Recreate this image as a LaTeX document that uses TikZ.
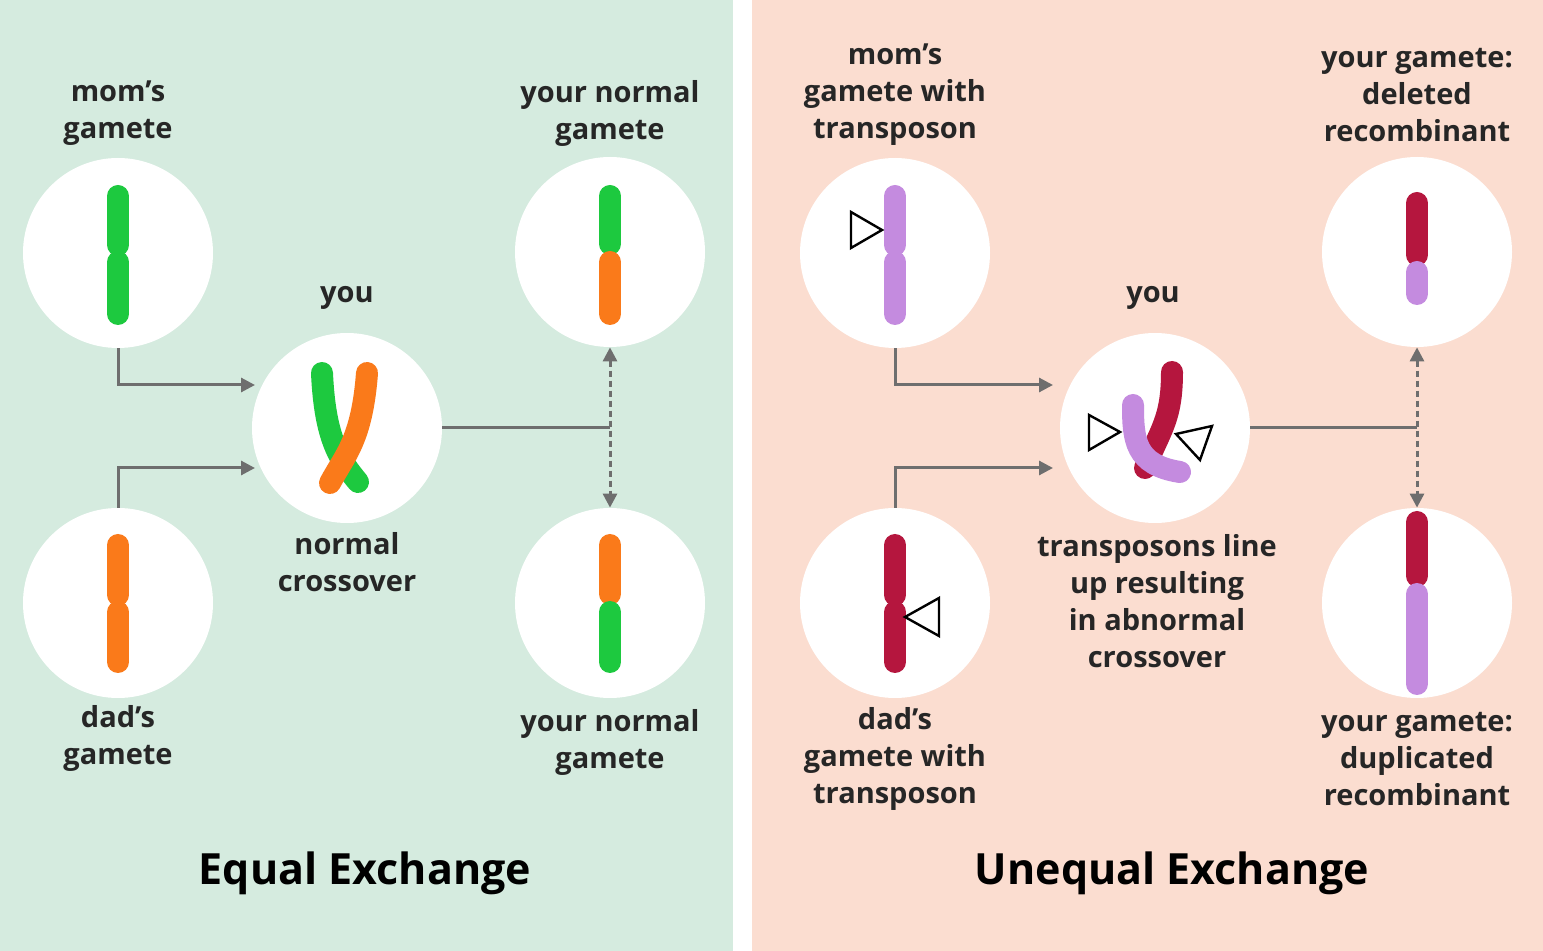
\documentclass[tikz,border=0pt]{standalone}
\usepackage{fontspec}
\setmainfont{Open Sans}
\usetikzlibrary{arrows.meta}
\definecolor{bgG}{HTML}{D5EBDF}
\definecolor{bgP}{HTML}{FBDDD0}
\definecolor{cG}{HTML}{1DC93F}
\definecolor{cO}{HTML}{FA7A1A}
\definecolor{cP}{HTML}{C48BDF}
\definecolor{cR}{HTML}{B5163E}
\definecolor{cL}{HTML}{6E6E6E}
\tikzset{
 cell/.style={circle,fill=white,minimum size=95pt,inner sep=0pt},
 chrom/.style={line width=11pt,line cap=round},
 lbl/.style={align=center,font=\bfseries\fontsize{14.5}{18.5}\selectfont,text=black!85},
 ttl/.style={font=\bfseries\fontsize{21.5}{25}\selectfont},
 conn/.style={draw=cL,line width=1.5pt,-{Triangle[length=7pt,width=7pt]}},
 plain/.style={draw=cL,line width=1.5pt},
 dconn/.style={draw=cL,line width=1.5pt,dashed,dash pattern=on 3pt off 2pt,{Triangle[length=7pt,width=7pt]}-{Triangle[length=7pt,width=7pt]}},
 tri/.style={draw=black,line width=1.2pt,fill=white,line join=miter}
}
\begin{document}
\begin{tikzpicture}[x=0.5pt,y=-0.5pt]
\useasboundingbox (0,0) rectangle (1543,951);
\fill[bgG] (0,0) rectangle (733,951);
\fill[white] (733,0) rectangle (752,951);
\fill[bgP] (752,0) rectangle (1543,951);
% circles
\node[cell] (m1) at (118,253) {};
\node[cell] (d1) at (118,603) {};
\node[cell] (y1) at (347,428) {};
\node[cell] (t1) at (610,252) {};
\node[cell] (b1) at (610,603) {};
\node[cell] (m2) at (895,253) {};
\node[cell] (d2) at (895,603) {};
\node[cell] (y2) at (1155,428) {};
\node[cell] (t2) at (1417,252) {};
\node[cell] (b2) at (1417,603) {};
% chromosomes left
\draw[chrom,cG] (118,196)--(118,245); \draw[chrom,cG] (118,262)--(118,314);
\draw[chrom,cO] (118,545)--(118,595); \draw[chrom,cO] (118,612)--(118,662);
\draw[chrom,cG] (610,196)--(610,244); \draw[chrom,cO] (610,262)--(610,314);
\draw[chrom,cO] (610,545)--(610,594); \draw[chrom,cG] (610,612)--(610,662);
\draw[chrom,cG] (322,373) .. controls (325,440) and (340,460) .. (358,482);
\draw[chrom,cO] (367,373) .. controls (362,440) and (345,455) .. (330,483);
% chromosomes right
\draw[chrom,cP] (895,196)--(895,245); \draw[chrom,cP] (895,262)--(895,314);
\draw[chrom,cR] (895,545)--(895,595); \draw[chrom,cR] (895,612)--(895,662);
\draw[chrom,cR] (1417,203)--(1417,255); \draw[chrom,cP] (1417,272)--(1417,294);
\draw[chrom,cR] (1417,522)--(1417,576); \draw[chrom,cP] (1417,594)--(1417,684);
\draw[chrom,cR] (1172,372) .. controls (1172,420) and (1160,430) .. (1145,468);
\draw[chrom,cP] (1133,405) .. controls (1133,440) and (1135,465) .. (1180,472);
% transposons
\draw[tri] (882,230)--(851,212)--(851,248)--cycle;
\draw[tri] (905,617)--(939,598)--(939,636)--cycle;
\draw[tri] (1120,432)--(1089,415)--(1089,450)--cycle;
\draw[tri] (1176,434)--(1212,426)--(1200,460)--cycle;
% connectors
\coordinate (a1) at (255,385); \coordinate (a2) at (255,468);
\coordinate (a3) at (1053,385); \coordinate (a4) at (1053,468);
\draw[conn] (m1.south) |- (a1);
\draw[conn] (d1.north) |- (a2);
\coordinate (j1) at (610,428);
\draw[plain] (y1.east) -- (j1);
\draw[dconn] (t1.south) -- (b1.north);
\draw[conn] (m2.south) |- (a3);
\draw[conn] (d2.north) |- (a4);
\coordinate (j2) at (1417,428);
\draw[plain] (y2.east) -- (j2);
\draw[dconn] (t2.south) -- (b2.north);
% labels
\node[lbl] at (118,113) {mom’s\\gamete};
\node[lbl] at (610,113) {your normal\\gamete};
\node[lbl] at (347,298) {you};
\node[lbl] at (347,562) {normal\\crossover};
\node[lbl] at (118,738) {dad’s\\gamete};
\node[lbl] at (610,742) {your normal\\gamete};
\node[ttl] at (365,873) {Equal Exchange};
\node[lbl] at (895,95) {mom’s\\gamete with\\transposon};
\node[lbl] at (1417,95) {your gamete:\\deleted\\recombinant};
\node[lbl] at (1153,298) {you};
\node[lbl] at (1157,601) {transposons line\\up resulting\\in abnormal\\crossover};
\node[lbl] at (895,759) {dad’s\\gamete with\\transposon};
\node[lbl] at (1417,759) {your gamete:\\duplicated\\recombinant};
\node[ttl] at (1172,873) {Unequal Exchange};
\end{tikzpicture}
\end{document}
